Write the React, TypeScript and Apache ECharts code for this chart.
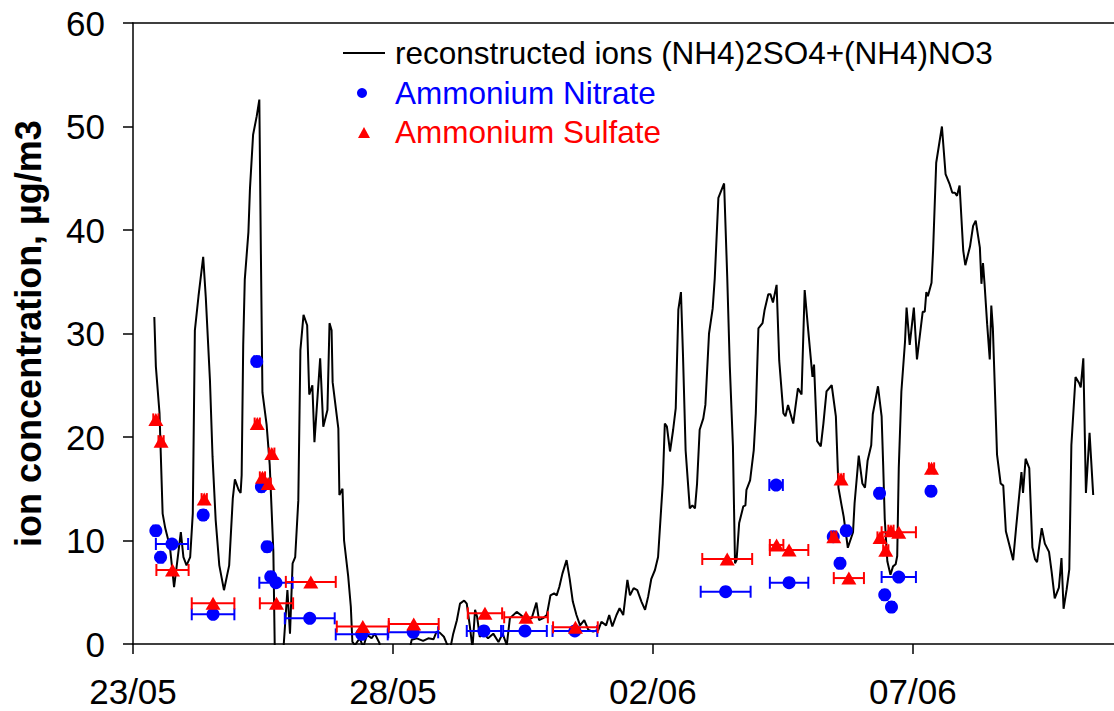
import React, { useEffect, useRef } from "react";
import * as echarts from "echarts";

// x values are days after 23/05 00:00
const dateTickLabels = ["23/05", "28/05", "02/06", "07/06"];
const dayMax = 18.87;

const reconDay = [
  0.41, 0.44, 0.51, 0.57, 0.62, 0.71, 0.79, 0.84, 0.92, 0.97, 1.03, 1.1, 1.15, 1.19, 1.26, 1.35, 1.4, 1.48, 1.53, 1.59,
  1.66, 1.75, 1.85, 1.92, 1.96, 2.03, 2.07, 2.09, 2.12, 2.15, 2.22, 2.25, 2.31, 2.38, 2.43, 2.46, 2.49, 2.57, 2.63, 2.7,
  2.73, 2.88, 2.97, 3.02, 3.07, 3.12, 3.18, 3.22, 3.28, 3.35, 3.39, 3.45, 3.49, 3.6, 3.66, 3.74, 3.78, 3.82, 3.84, 3.95,
  3.97, 4.03, 4.06, 4.14, 4.19, 4.22, 4.27, 4.36, 4.43, 4.5, 4.59, 4.65, 4.74, 4.78, 5.28, 5.36, 5.46, 5.58, 5.68, 5.78,
  5.84, 5.9, 5.98, 6.03, 6.1, 6.16, 6.23, 6.29, 6.37, 6.42, 6.48, 6.53, 6.58, 6.62, 6.67, 6.75, 6.83, 6.93, 7.03, 7.11,
  7.19, 7.25, 7.38, 7.46, 7.57, 7.67, 7.76, 7.81, 7.89, 7.96, 8.03, 8.1, 8.15, 8.2, 8.26, 8.34, 8.4, 8.46, 8.53, 8.6,
  8.68, 8.76, 8.85, 8.95, 9.01, 9.1, 9.16, 9.22, 9.3, 9.36, 9.43, 9.51, 9.56, 9.63, 9.7, 9.78, 9.85, 9.91, 9.97, 10.04,
  10.1, 10.19, 10.23, 10.27, 10.33, 10.39, 10.44, 10.49, 10.54, 10.58, 10.63, 10.68, 10.71, 10.76, 10.81, 10.85, 10.9, 10.97, 11.01, 11.08,
  11.15, 11.19, 11.26, 11.37, 11.43, 11.48, 11.54, 11.58, 11.61, 11.66, 11.74, 11.78, 11.8, 11.87, 11.94, 11.98, 12.03, 12.11, 12.15, 12.22,
  12.26, 12.31, 12.38, 12.43, 12.51, 12.55, 12.6, 12.7, 12.79, 12.86, 12.92, 12.99, 13.07, 13.1, 13.16, 13.23, 13.28, 13.34, 13.44, 13.52,
  13.57, 13.63, 13.67, 13.75, 13.85, 13.88, 13.96, 14.03, 14.08, 14.13, 14.2, 14.23, 14.33, 14.4, 14.43, 14.46, 14.51, 14.57, 14.62, 14.67,
  14.7, 14.73, 14.78, 14.85, 14.88, 14.94, 15.02, 15.08, 15.19, 15.23, 15.26, 15.29, 15.36, 15.39, 15.45, 15.56, 15.63, 15.71, 15.76, 15.81,
  15.85, 15.9, 15.97, 16.01, 16.1, 16.16, 16.21, 16.29, 16.32, 16.35, 16.38, 16.43, 16.48, 16.51, 16.54, 16.62, 16.69, 16.74, 16.79, 16.85,
  16.93, 16.99, 17.09, 17.12, 17.17, 17.24, 17.3, 17.35, 17.39, 17.48, 17.54, 17.62, 17.67, 17.73, 17.81, 17.86, 17.9, 17.96, 18.01, 18.05,
  18.13, 18.2, 18.23, 18.28, 18.33, 18.4, 18.47,
];
const reconValue = [
  31.6, 26.8, 22.3, 12.6, 11.2, 9.4, 5.5, 7.5, 10.8, 8.4, 7.6, 8.4, 12.6, 30.3, 33.6, 37.4, 33.5, 25.5, 18.1, 12.0,
  7.6, 5.2, 7.6, 14.1, 15.9, 14.9, 14.6, 16.3, 28.9, 35.2, 39.8, 44.0, 49.2, 51.0, 52.6, 37.7, 24.3, 21.2, 17.3, 8.9,
  -1.5, -1.5, 5.2, 1.0, 7.8, 8.4, 13.9, 28.4, 31.8, 30.8, 24.1, 25.0, 19.5, 27.6, 21.0, 22.6, 31.0, 30.3, 25.3, 20.8,
  14.4, 15.0, 10.0, 6.5, 3.6, 0.2, -0.1, 0.55, -0.3, 0.9, 0.55, 1.0, 0.1, -1.5, -1.5, 0.4, 0.55, 0.3, 0.55, 0.45,
  1.2, 1.1, 0.7, 0.1, -0.5, 1.0, 2.3, 3.9, 4.2, 3.9, 1.7, -0.4, 3.3, 2.6, 0.7, 1.0, 0.55, 1.0, 0.2, 1.0,
  -0.1, 2.5, 3.1, 2.8, 2.3, 2.5, 4.0, 2.3, 2.5, 2.8, 4.7, 4.9, 4.7, 5.5, 6.8, 8.1, 6.3, 4.1, 2.8, 1.8,
  2.3, 1.35, 1.2, 1.35, 2.15, 1.8, 2.8, 1.7, 2.8, 3.45, 2.8, 6.2, 4.7, 5.4, 5.2, 4.1, 3.3, 4.6, 6.3, 7.15,
  8.4, 15.5, 21.3, 21.0, 18.6, 20.7, 22.8, 32.3, 34.0, 27.8, 18.7, 15.2, 13.1, 13.4, 13.1, 15.5, 20.7, 21.8, 23.1, 30.0,
  32.4, 35.3, 43.1, 44.5, 35.5, 26.8, 19.1, 7.8, 8.1, 11.7, 13.3, 13.4, 14.9, 15.8, 18.7, 22.3, 30.5, 31.0, 32.3, 33.8,
  33.8, 33.0, 34.7, 27.4, 22.3, 22.0, 23.1, 21.3, 24.7, 24.1, 34.2, 30.2, 25.8, 27.0, 19.6, 19.1, 21.3, 24.4, 25.0, 22.0,
  15.1, 13.4, 12.3, 9.3, 10.8, 13.6, 18.2, 15.5, 15.1, 17.7, 19.2, 22.2, 24.9, 22.0, 17.3, 12.1, 8.0, 6.7, 7.5, 7.7,
  8.5, 17.0, 24.4, 29.2, 32.5, 28.9, 32.5, 27.5, 32.1, 32.1, 34.0, 33.6, 34.9, 38.0, 46.5, 50.0, 45.4, 44.4, 43.6, 43.6,
  43.3, 44.3, 38.0, 36.6, 38.4, 40.4, 40.9, 38.3, 34.8, 36.8, 34.8, 30.9, 27.5, 32.7, 30.5, 18.3, 15.5, 15.3, 10.9, 9.7,
  8.1, 11.4, 16.6, 14.6, 17.9, 17.0, 9.35, 8.2, 7.9, 11.2, 9.7, 8.9, 7.0, 4.4, 5.45, 8.3, 3.4, 5.3, 7.2, 19.2,
  25.8, 25.2, 24.8, 27.6, 14.6, 20.4, 14.4,
];

// Ammonium nitrate: sample centre (days), value, half width of the sampling interval (days)
const nitrateDay = [0.44, 0.53, 0.75, 1.35, 1.54, 2.38, 2.47, 2.58, 2.65, 2.75, 3.4, 4.4, 5.39, 6.75, 7.54, 8.5, 11.4, 12.37, 12.62, 13.47, 13.6, 13.72, 14.36, 14.46, 14.59, 14.73, 15.35];
const nitrateValue = [10.95, 8.37, 9.66, 12.46, 2.87, 27.3, 15.2, 9.4, 6.5, 5.92, 2.48, 0.93, 1.13, 1.26, 1.26, 1.26, 5.05, 15.36, 5.92, 10.37, 7.8, 10.95, 14.56, 4.75, 3.57, 6.47, 14.77];
const nitrateHalf = [0.05, 0.05, 0.31, 0.05, 0.41, 0.05, 0.05, 0.05, 0.05, 0.32, 0.48, 0.5, 0.48, 0.33, 0.42, 0.43, 0.48, 0.13, 0.37, 0.05, 0.05, 0.05, 0.05, 0.05, 0.05, 0.33, 0.05];

// Ammonium sulfate
const sulfateDay = [0.44, 0.54, 0.76, 1.37, 1.54, 2.39, 2.49, 2.6, 2.67, 2.76, 3.42, 4.42, 5.4, 6.77, 7.56, 8.51, 11.43, 12.38, 12.62, 13.48, 13.62, 13.77, 14.37, 14.48, 14.58, 14.73, 15.36];
const sulfateValue = [21.7, 19.6, 7.15, 14.0, 3.93, 21.3, 16.1, 15.5, 18.4, 3.93, 6.0, 1.68, 1.93, 2.96, 2.58, 1.61, 8.21, 9.57, 9.08, 10.37, 15.95, 6.37, 10.3, 9.06, 10.95, 10.8, 16.97];
const sulfateHalf = [0.05, 0.05, 0.31, 0.05, 0.41, 0.05, 0.05, 0.05, 0.05, 0.32, 0.48, 0.5, 0.48, 0.33, 0.42, 0.43, 0.48, 0.13, 0.37, 0.05, 0.05, 0.29, 0.05, 0.05, 0.05, 0.33, 0.05];

const legendLabels = [
  "reconstructed ions (NH4)2SO4+(NH4)NO3",
  "Ammonium Nitrate",
  "Ammonium Sulfate",
];
const yTitle = "ion concentration, µg/m3";

const FONT = "'Liberation Sans', Arial, sans-serif";
const BLUE = "#0000ff";
const RED = "#ff0000";

function errorBarRenderer(color: string) {
  return (_params: any, api: any) => {
    const c = api.value(0);
    const v = api.value(1);
    const h = api.value(2);
    const a = api.coord([c - h, v]);
    const b = api.coord([c + h, v]);
    const cap = 6;
    const style = { stroke: color, lineWidth: 2 };
    return {
      type: "group",
      children: [
        { type: "line", shape: { x1: a[0], y1: a[1], x2: b[0], y2: b[1] }, style },
        { type: "line", shape: { x1: a[0], y1: a[1] - cap, x2: a[0], y2: a[1] + cap }, style },
        { type: "line", shape: { x1: b[0], y1: b[1] - cap, x2: b[0], y2: b[1] + cap }, style },
      ],
    };
  };
}

export default function App() {
  const ref = useRef<HTMLDivElement>(null);
  useEffect(() => {
    const chart = echarts.init(ref.current!, null, { renderer: "svg" });
    const lineData = reconDay.map((d, i) => [d, reconValue[i]]);
    const nitrateBars = nitrateDay.map((d, i) => [d, nitrateValue[i], nitrateHalf[i]]);
    const sulfateBars = sulfateDay.map((d, i) => [d, sulfateValue[i], sulfateHalf[i]]);
    chart.setOption({
      animation: false,
      backgroundColor: "#ffffff",
      grid: { left: 133, right: 0, top: 23, bottom: 67 },
      xAxis: [
        {
          type: "value",
          min: 0,
          max: dayMax,
          interval: 5,
          axisLine: { show: true, onZero: false, lineStyle: { color: "#000", width: 1.5 } },
          axisTick: { show: true, inside: false, length: 10, lineStyle: { color: "#000", width: 1.5 } },
          axisLabel: {
            show: true,
            margin: 30,
            fontSize: 35,
            fontFamily: FONT,
            color: "#000",
            showMaxLabel: false,
            formatter: (v: number) => {
              const i = Math.round(v / 5);
              return Math.abs(v - i * 5) < 1e-6 && dateTickLabels[i] ? dateTickLabels[i] : "";
            },
          },
          splitLine: { show: false },
        },
        {
          type: "value",
          position: "top",
          min: 0,
          max: dayMax,
          axisLine: { show: true, onZero: false, lineStyle: { color: "#000", width: 1.5 } },
          axisTick: { show: false },
          axisLabel: { show: false },
          splitLine: { show: false },
        },
      ],
      yAxis: {
        type: "value",
        min: 0,
        max: 60,
        interval: 10,
        name: yTitle,
        nameLocation: "middle",
        nameGap: 87,
        nameTextStyle: { fontSize: 36, fontWeight: "bold", fontFamily: FONT, color: "#000" },
        axisLine: { show: true, lineStyle: { color: "#000", width: 1.5 } },
        axisTick: { show: true, inside: false, length: 10, lineStyle: { color: "#000", width: 1.5 } },
        axisLabel: { margin: 28, fontSize: 35, fontFamily: FONT, color: "#000" },
        splitLine: { show: false },
      },
      series: [
        {
          type: "line",
          name: legendLabels[0],
          data: lineData,
          showSymbol: false,
          symbol: "none",
          clip: true,
          lineStyle: { color: "#000", width: 2 },
          z: 2,
        },
        {
          type: "custom",
          name: "nitrate-bars",
          data: nitrateBars,
          renderItem: errorBarRenderer(BLUE),
          encode: { x: 0, y: 1 },
          z: 3,
        },
        {
          type: "scatter",
          name: legendLabels[1],
          data: nitrateBars.map((r) => [r[0], r[1]]),
          symbol: "circle",
          symbolSize: 13,
          itemStyle: { color: BLUE, opacity: 1 },
          z: 4,
        },
        {
          type: "custom",
          name: "sulfate-bars",
          data: sulfateBars,
          renderItem: errorBarRenderer(RED),
          encode: { x: 0, y: 1 },
          z: 5,
        },
        {
          type: "scatter",
          name: legendLabels[2],
          data: sulfateBars.map((r) => [r[0], r[1]]),
          symbol: "triangle",
          symbolSize: [15, 13],
          itemStyle: { color: RED, opacity: 1 },
          z: 6,
        },
      ],
      graphic: [
        { type: "line", shape: { x1: 343, y1: 53, x2: 385, y2: 53 }, style: { stroke: "#000", lineWidth: 2 }, z: 10 },
        {
          type: "text",
          x: 395,
          y: 53,
          style: { text: legendLabels[0], fontSize: 31.5, fontFamily: FONT, fill: "#000", textVerticalAlign: "middle" },
          z: 10,
        },
        { type: "circle", shape: { cx: 362, cy: 93, r: 5 }, style: { fill: BLUE }, z: 10 },
        {
          type: "text",
          x: 395,
          y: 93,
          style: { text: legendLabels[1], fontSize: 31.5, fontFamily: FONT, fill: BLUE, textVerticalAlign: "middle" },
          z: 10,
        },
        { type: "polygon", shape: { points: [[364, 127], [370, 138], [358, 138]] }, style: { fill: RED }, z: 10 },
        {
          type: "text",
          x: 395,
          y: 132,
          style: { text: legendLabels[2], fontSize: 31.5, fontFamily: FONT, fill: RED, textVerticalAlign: "middle" },
          z: 10,
        },
      ],
    });
    return () => chart.dispose();
  }, []);
  return (
    <div
      ref={ref}
      style={{ position: "absolute", left: 0, top: 0, width: 1114, height: 711, background: "#fff" }}
    />
  );
}
